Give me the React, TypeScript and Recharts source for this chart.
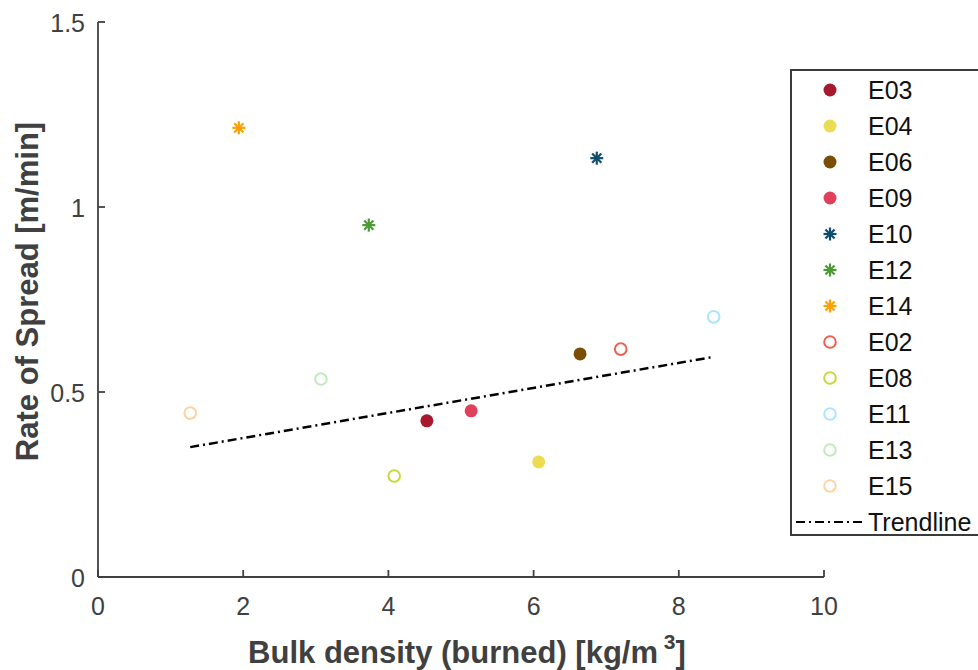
import React from 'react';
import { ScatterChart, Scatter, XAxis, YAxis, Legend } from 'recharts';

const seriesNames = ['E03', 'E04', 'E06', 'E09', 'E10', 'E12', 'E14', 'E02', 'E08', 'E11', 'E13', 'E15'];
const seriesX = [4.53, 6.07, 6.64, 5.14, 6.87, 3.73, 1.94, 7.2, 4.08, 8.48, 3.07, 1.27];
const seriesY = [0.422, 0.311, 0.603, 0.449, 1.132, 0.951, 1.214, 0.616, 0.273, 0.703, 0.535, 0.443];
const seriesColors = ['#A6192E', '#EBDC52', '#7A4F05', '#E0405A', '#0E4D6B', '#4B9A35', '#FFA000', '#F0604D', '#C5DA3A', '#A9E5FF', '#BFEABA', '#FFD3A0'];
const seriesMarkers = ['filled', 'filled', 'filled', 'filled', 'star', 'star', 'star', 'open', 'open', 'open', 'open', 'open'];
const trendName = 'Trendline';
const trendX = [1.27, 8.48];
const trendY = [0.351, 0.595];
const xTicks = [0, 2, 4, 6, 8, 10];
const yTicks = [0, 0.5, 1, 1.5];

const FONT = '"Liberation Sans", Arial, Helvetica, sans-serif';
const AXIS = '#404040';

function Marker({ kind, color, cx, cy }: { kind: string; color: string; cx: number; cy: number }) {
  if (kind === 'filled') return <circle cx={cx} cy={cy} r={6.5} fill={color} />;
  if (kind === 'open') return <circle cx={cx} cy={cy} r={5.8} fill="none" stroke={color} strokeWidth={2} />;
  const r = 6.5;
  const d = r * 0.7071;
  return (
    <g stroke={color} strokeWidth={2.2} strokeLinecap="butt">
      <line x1={cx - r} y1={cy} x2={cx + r} y2={cy} />
      <line x1={cx} y1={cy - r} x2={cx} y2={cy + r} />
      <line x1={cx - d} y1={cy - d} x2={cx + d} y2={cy + d} />
      <line x1={cx - d} y1={cy + d} x2={cx + d} y2={cy - d} />
    </g>
  );
}

const XTick = (props: any) => {
  const { x, y, payload } = props;
  return (
    <g>
      <line x1={x} y1={y} x2={x} y2={y - 7} stroke={AXIS} strokeWidth={1.8} />
      <text x={x} y={y + 38} textAnchor="middle" fontSize={25} fill={AXIS} fontFamily={FONT}>
        {String(payload.value)}
      </text>
    </g>
  );
};

const YTick = (props: any) => {
  const { x, y, payload } = props;
  return (
    <g>
      <line x1={x} y1={y} x2={x + 7} y2={y} stroke={AXIS} strokeWidth={1.8} />
      <text x={x - 13} y={y + 10} textAnchor="end" fontSize={25} fill={AXIS} fontFamily={FONT}>
        {String(payload.value)}
      </text>
    </g>
  );
};

const XTitle = (props: any) => {
  const vb = props.viewBox;
  return (
    <text x={vb.x + vb.width / 2 + 6} y={vb.y + 86} textAnchor="middle" fontSize={31} fontWeight="bold" fill={AXIS} fontFamily={FONT}>
      Bulk density (burned) [kg/m
      <tspan fontSize={21} dy={-14}> 3</tspan>
      <tspan dy={14}>]</tspan>
    </text>
  );
};

const YTitle = (props: any) => {
  const vb = props.viewBox;
  const cx = vb.x + vb.width - 60;
  const cy = vb.y + vb.height / 2 - 8;
  return (
    <text x={cx} y={cy} transform={`rotate(-90 ${cx} ${cy})`} textAnchor="middle" fontSize={31} fontWeight="bold" fill={AXIS} fontFamily={FONT}>
      Rate of Spread [m/min]
    </text>
  );
};

const LegendBox = () => {
  const step = 36;
  return (
    <svg width={188} height={470} style={{ display: 'block' }}>
      <rect x={1} y={1} width={220} height={465} fill="#fff" stroke="#3a3a3a" strokeWidth={2} />
      {seriesNames.map((n, i) => (
        <g key={n}>
          <Marker kind={seriesMarkers[i]} color={seriesColors[i]} cx={40} cy={21 + step * i} />
          <text x={78} y={21 + step * i + 9} fontSize={25} fill="#111" fontFamily={FONT}>
            {n}
          </text>
        </g>
      ))}
      <line x1={6} y1={21 + step * 12} x2={74} y2={21 + step * 12} stroke="#000" strokeWidth={2.2} strokeDasharray="9 4 2 4" />
      <text x={78} y={21 + step * 12 + 9} fontSize={25} fill="#111" fontFamily={FONT}>
        {trendName}
      </text>
    </svg>
  );
};

export default function App() {
  const trendData = trendX.map((x, i) => ({ x, y: trendY[i] }));
  return (
    <div style={{ position: 'absolute', left: 0, top: 0, width: 978, height: 670, background: '#fff' }}>
      <ScatterChart width={978} height={670} margin={{ top: 22, right: 154, bottom: 92, left: 97 }}>
        <XAxis
          type="number"
          dataKey="x"
          domain={[0, 10]}
          ticks={xTicks}
          height={1}
          tickSize={0}
          tickMargin={0}
          tickLine={false}
          tick={<XTick />}
          axisLine={{ stroke: AXIS, strokeWidth: 1.8 }}
          allowDataOverflow
          label={{ content: <XTitle /> }}
        />
        <YAxis
          type="number"
          dataKey="y"
          domain={[0, 1.5]}
          ticks={yTicks}
          width={1}
          tickSize={0}
          tickMargin={0}
          tickLine={false}
          tick={<YTick />}
          axisLine={{ stroke: AXIS, strokeWidth: 1.8 }}
          allowDataOverflow
          label={{ content: <YTitle /> }}
        />
        <Scatter
          name={trendName}
          data={trendData}
          line={{ stroke: '#000', strokeWidth: 2.5, strokeDasharray: '9 4 2 4' }}
          shape={() => <g />}
          isAnimationActive={false}
        />
        {seriesNames.map((n, i) => (
          <Scatter
            key={n}
            name={n}
            data={[{ x: seriesX[i], y: seriesY[i] }]}
            fill={seriesColors[i]}
            isAnimationActive={false}
            shape={(p: any) => <Marker kind={seriesMarkers[i]} color={seriesColors[i]} cx={p.cx} cy={p.cy} />}
          />
        ))}
        <Legend
          layout="vertical"
          align="center"
          verticalAlign="middle"
          content={() => <LegendBox />}
          wrapperStyle={{ position: 'absolute', left: 790, top: 69, width: 188, height: 470 }}
        />
      </ScatterChart>
    </div>
  );
}
